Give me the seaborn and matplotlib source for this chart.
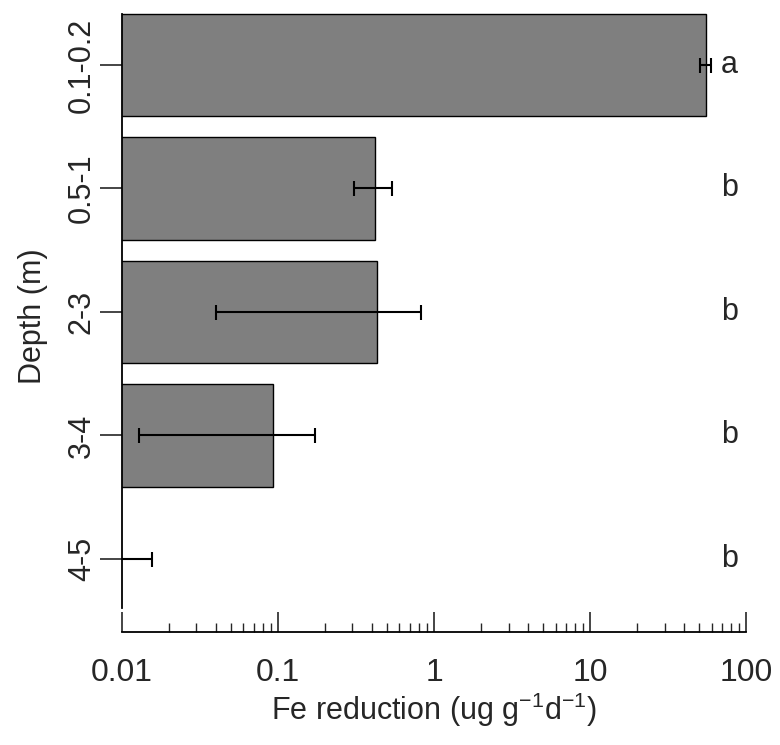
import numpy as np
import pandas as pd
import matplotlib
matplotlib.use("Agg")
import matplotlib.pyplot as plt
import seaborn as sns
from matplotlib.ticker import LogLocator, NullFormatter

# Data
depths = ["0.1-0.2", "0.5-1", "2-3", "3-4", "4-5"]
fe_red = [55.0, 0.42, 0.43, 0.093, 0.0]
fe_se = [4.3, 0.114, 0.39, 0.080, 0.0156]
letters = ["a", "b", "b", "b", "b"]

xticks = [0.01, 0.1, 1, 10, 100]
xtick_labels = ["0.01", "0.1", "1", "10", "100"]

df = pd.DataFrame({"depth": depths, "fe": fe_red})

sns.set_style("white")
plt.rcParams["font.family"] = ["Liberation Sans", "DejaVu Sans"]
plt.rcParams["mathtext.fontset"] = "custom"
plt.rcParams["mathtext.rm"] = "Liberation Sans"
plt.rcParams["mathtext.it"] = "Liberation Sans"

fig = plt.figure(figsize=(7.8, 7.45), dpi=100)
ax = fig.add_axes([0.156, 0.1517, 0.801, 0.8483])

sns.barplot(data=df, x="fe", y="depth", orient="h", color="#7f7f7f",
            saturation=1, width=0.833, edgecolor="black", linewidth=1.0,
            errorbar=None, ax=ax)
ax.set_xscale("log")

# error bars
ax.errorbar(x=fe_red, y=np.arange(len(depths)), xerr=fe_se, fmt="none",
            ecolor="black", elinewidth=1.5, capsize=5.4, capthick=1.5)

# significance letters
for i, lab in enumerate(letters):
    ax.text(78, i, lab, ha="center", va="center", fontsize=22)

ax.set_xlim(0.01, 100)
ax.set_ylim(4.591, -0.526)

ax.set_xticks(xticks)
ax.set_xticklabels(xtick_labels)
ax.xaxis.set_minor_locator(LogLocator(base=10, subs=np.arange(2, 10)))
ax.xaxis.set_minor_formatter(NullFormatter())

ax.tick_params(axis="x", which="major", direction="in", length=14.4, width=1.2,
               labelsize=23, pad=19, bottom=True)
ax.tick_params(axis="x", which="minor", direction="in", length=6.5, width=1.0,
               bottom=True)
ax.tick_params(axis="y", direction="out", length=15.8, width=1.2,
               labelsize=22, pad=2, left=True)
for lab in ax.get_yticklabels():
    lab.set_rotation(90)
    lab.set_va("center")

sns.despine(ax=ax, top=True, right=True)
ax.spines["left"].set_bounds(-0.4165, 4.40)
ax.spines["left"].set_linewidth(1.3)
ax.spines["bottom"].set_linewidth(1.3)
ax.spines["left"].set_color("black")
ax.spines["bottom"].set_color("black")

ax.set_xlabel(r"Fe reduction (ug g$^{-1}$d$^{-1}$)", fontsize=22, labelpad=2)
ax.set_ylabel("Depth (m)", fontsize=22, labelpad=13.5)

fig.savefig("out.png", dpi=100)
